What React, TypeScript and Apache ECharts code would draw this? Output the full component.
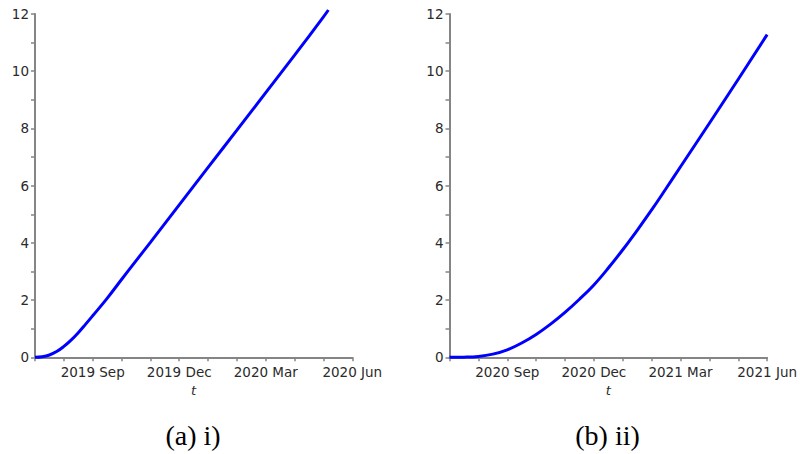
import React, { useEffect, useRef } from "react";
import * as echarts from "echarts";

// Months elapsed since the first tick of each panel (Jul 1st)
const monthsA = [0, 0.25, 0.5, 0.75, 1, 1.25, 1.5, 1.75, 2, 2.5, 3, 3.5, 4, 5, 6, 7, 8, 9, 10, 10.17];
const valuesA = [0, 0.02, 0.08, 0.2, 0.38, 0.6, 0.86, 1.15, 1.45, 2.06, 2.72, 3.37, 4.02, 5.33, 6.64, 7.94, 9.25, 10.56, 11.9, 12.14];

const monthsB = [0, 0.5, 1, 1.5, 2, 2.5, 3, 3.5, 4, 4.5, 5, 5.5, 6, 6.5, 7, 7.5, 8, 9, 10, 11];
const valuesB = [0, 0.005, 0.03, 0.11, 0.26, 0.5, 0.8, 1.16, 1.57, 2.03, 2.53, 3.12, 3.76, 4.44, 5.15, 5.9, 6.66, 8.18, 9.72, 11.28];

// Month ticks that carry a date label
const labelMonths = [2, 5, 8, 11];
const labelsA = ["2019 Sep", "2019 Dec", "2020 Mar", "2020 Jun"];
const labelsB = ["2020 Sep", "2020 Dec", "2021 Mar", "2021 Jun"];

const captions = ["(a) i)", "(b) ii)"];
const yLabelStep = 2;

const AXIS_GREY = "#858585";
const TEXT = "#2a2a2a";
const FONT = "DejaVu Sans";

function xAxisFor(gridIndex: number, labels: string[]) {
  return {
    type: "value",
    gridIndex,
    min: 0,
    max: 11,
    interval: 1,
    name: "t",
    nameLocation: "middle",
    nameGap: 23,
    nameTextStyle: { fontFamily: FONT, fontStyle: "italic", fontSize: 13, color: TEXT },
    axisLine: { show: true, onZero: false, lineStyle: { color: AXIS_GREY, width: 2 } },
    axisTick: { show: true, length: 4, lineStyle: { color: AXIS_GREY, width: 1.5 } },
    splitLine: { show: false },
    axisLabel: {
      show: true,
      showMinLabel: true,
      showMaxLabel: true,
      margin: 8,
      fontFamily: FONT,
      fontSize: 13.5,
      color: TEXT,
      formatter: (v: number) => {
        const i = labelMonths.indexOf(Math.round(v));
        return i >= 0 ? labels[i] : "";
      },
    },
  };
}

function yAxisFor(gridIndex: number) {
  return {
    type: "value",
    gridIndex,
    min: 0,
    max: 12,
    interval: 1,
    axisLine: { show: true, onZero: false, lineStyle: { color: AXIS_GREY, width: 2 } },
    axisTick: { show: true, length: 4, lineStyle: { color: AXIS_GREY, width: 1.5 } },
    splitLine: { show: false },
    axisLabel: {
      show: true,
      margin: 6,
      fontFamily: FONT,
      fontSize: 13.5,
      color: TEXT,
      formatter: (v: number) => (Math.round(v) % yLabelStep === 0 ? String(Math.round(v)) : ""),
    },
  };
}

function seriesFor(idx: number, xs: number[], ys: number[]) {
  return {
    type: "line",
    xAxisIndex: idx,
    yAxisIndex: idx,
    data: xs.map((m, i) => [m, ys[i]]),
    showSymbol: false,
    smooth: 0.4,
    clip: false,
    lineStyle: { color: "#0000ff", width: 3 },
  };
}

export default function App() {
  const ref = useRef<HTMLDivElement>(null);

  useEffect(() => {
    if (!ref.current) return;
    const chart = echarts.init(ref.current, undefined, { renderer: "svg" });
    chart.setOption({
      animation: false,
      backgroundColor: "#ffffff",
      grid: [
        { left: 35, top: 14, width: 317.3, height: 343.3 },
        { left: 449.5, top: 14, width: 318.2, height: 343.3 },
      ],
      xAxis: [xAxisFor(0, labelsA), xAxisFor(1, labelsB)],
      yAxis: [yAxisFor(0), yAxisFor(1)],
      series: [seriesFor(0, monthsA, valuesA), seriesFor(1, monthsB, valuesB)],
      graphic: [
        {
          type: "text",
          x: 193,
          y: 435,
          style: {
            text: captions[0],
            font: "28px 'Liberation Serif'",
            fill: "#000",
            align: "center",
            verticalAlign: "middle",
          },
        },
        {
          type: "text",
          x: 607.5,
          y: 435,
          style: {
            text: captions[1],
            font: "28px 'Liberation Serif'",
            fill: "#000",
            align: "center",
            verticalAlign: "middle",
          },
        },
      ],
    });
    return () => chart.dispose();
  }, []);

  return (
    <div
      ref={ref}
      style={{ position: "fixed", left: 0, top: 0, width: 800, height: 454, background: "#fff" }}
    />
  );
}
